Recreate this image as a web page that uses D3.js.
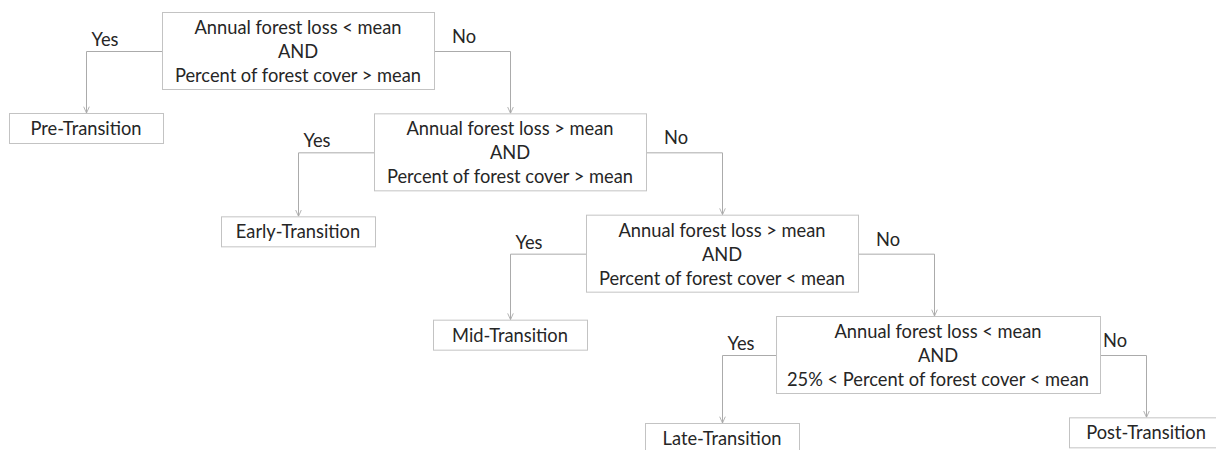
<!DOCTYPE html>
<html>
<head>
<meta charset="utf-8">
<script src="https://cdn.jsdelivr.net/npm/d3@7"></script>
<style>
  html, body { margin: 0; padding: 0; background: #ffffff; }
  svg { display: block; }
</style>
</head>
<body>
<svg id="chart" width="1216" height="450"></svg>
<script>
// ---- data ----
const conditions = [
  ["Annual forest loss < mean", "AND", "Percent of forest cover > mean"],
  ["Annual forest loss > mean", "AND", "Percent of forest cover > mean"],
  ["Annual forest loss > mean", "AND", "Percent of forest cover < mean"],
  ["Annual forest loss < mean", "AND", "25% < Percent of forest cover < mean"]
];
const stages = ["Pre-Transition", "Early-Transition", "Mid-Transition", "Late-Transition", "Post-Transition"];
const stageColumns = [0, 1, 2, 3, 5];
const yesLabel = "Yes";
const noLabel = "No";

// ---- style ----
const FONT = "Lato, 'Open Sans', sans-serif";
const FS = 18.3;
const textColor = "#262626";
const boxStroke = "#c3c3c3";
const lineColor = "#ababab";

const svg = d3.select("#chart");

// scales: column index -> x centre, level index -> box top
const colX = d3.scaleLinear().domain([0, 5]).range([86, 1146]);
const levelY = d3.scaleLinear().domain([0, 3]).range([12, 316]);
const leafY = d3.scaleLinear().domain([0, 3]).range([113, 423]);

const decH = 77, decMinW = 272, leafW = 154, leafH = 30, lineGap = 24;

svg.append("defs").append("marker")
  .attr("id", "arr")
  .attr("viewBox", "0 0 10 10")
  .attr("refX", 10).attr("refY", 5)
  .attr("markerWidth", 7).attr("markerHeight", 7)
  .attr("markerUnits", "userSpaceOnUse")
  .attr("orient", "auto")
  .append("path")
  .attr("d", "M1,1 L10,5 L1,9")
  .attr("fill", "none")
  .attr("stroke", lineColor)
  .attr("stroke-width", 1.3);

// measure text widths
const meas = svg.append("text").attr("font-family", FONT).attr("font-size", FS);
function tw(s) { meas.text(s); return meas.node().getComputedTextLength(); }

const decisions = conditions.map((lines, i) => {
  const w = Math.max(decMinW, d3.max(lines, tw) + 22);
  const cx = colX(i + 1) + (w > decMinW ? 4 : 0);
  return { lines, i, cx, x: cx - w / 2, w, y: levelY(i), h: decH };
});
meas.remove();

const leaves = stages.map((s, i) => {
  const last = i === stages.length - 1;
  const cx = colX(stageColumns[i]);
  const y = last ? levelY(4) : leafY(i);
  return { s, cx, x: cx - leafW / 2, y, w: leafW, h: leafH };
});

const links = svg.append("g").attr("fill", "none").attr("stroke", lineColor).attr("stroke-width", 1);
const labels = svg.append("g").attr("font-family", FONT).attr("font-size", FS).attr("fill", textColor);

decisions.forEach((d, i) => {
  const cy = d.y + 39;
  // yes branch -> leaf i
  const yl = leaves[i];
  links.append("path")
    .attr("d", `M${d.x},${cy + 0.5} H${yl.cx + 0.5} V${yl.y}`)
    .attr("marker-end", "url(#arr)");
  labels.append("text").attr("x", yl.cx + 19).attr("y", cy - 5)
    .attr("text-anchor", "middle").text(yesLabel);
  // no branch -> next decision or final leaf
  const last = i === decisions.length - 1;
  const target = last ? leaves[leaves.length - 1] : decisions[i + 1];
  const tx = last ? target.cx : colX(i + 2);
  links.append("path")
    .attr("d", `M${d.x + d.w},${cy + 0.5} H${tx + 0.5} V${target.y}`)
    .attr("marker-end", "url(#arr)");
  labels.append("text").attr("x", (d.x + d.w + tx) / 2 - 8).attr("y", cy - 8)
    .attr("text-anchor", "middle").text(noLabel);
});

const dg = svg.append("g");
decisions.forEach(d => {
  dg.append("rect").attr("x", d.x + 0.5).attr("y", d.y + 0.5).attr("width", d.w).attr("height", d.h)
    .attr("fill", "#fff").attr("stroke", boxStroke).attr("stroke-width", 1);
  d.lines.forEach((l, k) => {
    dg.append("text").attr("x", d.x + d.w / 2).attr("y", d.y + 22 + k * lineGap)
      .attr("text-anchor", "middle").attr("font-family", FONT).attr("font-size", FS)
      .attr("fill", textColor).text(l);
  });
});

const lg = svg.append("g");
leaves.forEach(d => {
  lg.append("rect").attr("x", d.x + 0.5).attr("y", d.y + 0.5).attr("width", d.w).attr("height", d.h)
    .attr("fill", "#fff").attr("stroke", boxStroke).attr("stroke-width", 1);
  lg.append("text").attr("x", d.cx).attr("y", d.y + 22)
    .attr("text-anchor", "middle").attr("font-family", FONT).attr("font-size", FS)
    .attr("fill", textColor).text(d.s);
});
</script>
</body>
</html>
